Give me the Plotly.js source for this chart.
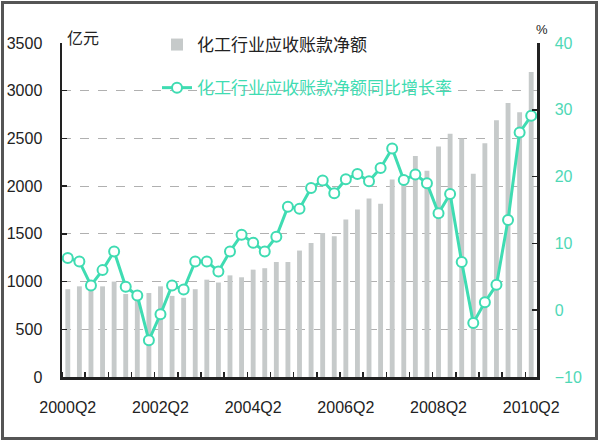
<!DOCTYPE html>
<html>
<head>
<meta charset="utf-8">
<script src="https://cdn.plot.ly/plotly-3.0.1.min.js"></script>
<style>html,body{margin:0;padding:0;background:#fff;}#chart{width:600px;height:442px;}</style>
</head>
<body>
<div id="chart"></div>
<script>
// Quarters 2000Q2 .. 2010Q2
var quarters = [];
(function(){
  var y = 2000, q = 2;
  for (var i = 0; i < 41; i++) {
    quarters.push(y + 'Q' + q);
    q++; if (q > 4) { q = 1; y++; }
  }
})();

// 化工行业应收账款净额 (亿元)
var receivables = [920, 950, 960, 950, 1000, 870, 850, 880, 950, 850,
                   830, 920, 1020, 990, 1065, 1045, 1125, 1140, 1205, 1205,
                   1325, 1405, 1510, 1475, 1650, 1755, 1870, 1815, 2070, 2020,
                   2315, 2160, 2415, 2550, 2500, 2130, 2450, 2690, 2870, 2775,
                   3195];

// 同比增长率 (%)
var growth = [7.8, 7.3, 3.7, 6.0, 8.8, 3.5, 2.2, -4.5, -0.6, 3.7,
              3.1, 7.3, 7.3, 5.8, 8.8, 11.3, 10.1, 8.8, 11.0, 15.5,
              15.2, 18.3, 19.4, 17.5, 19.6, 20.4, 19.3, 21.3, 24.2, 19.5,
              20.3, 19.0, 14.5, 17.4, 7.2, -1.9, 1.2, 3.8, 13.5, 26.6,
              29.1];

var labelIdx = [0, 8, 16, 24, 32, 40];
var labelText = labelIdx.map(function(i){ return quarters[i]; });

var idx = quarters.map(function(_, i){ return i; });

var teal = '#3fdcb2';
var latin = '"Liberation Sans", Arial, sans-serif';
var cjk = '"Noto Sans CJK SC", "Noto Sans", sans-serif';

var traces = [
  {
    type: 'bar',
    name: '化工行业应收账款净额',
    x: idx, y: receivables,
    width: 0.42,
    marker: {color: '#c6caca'},
    legend: 'legend',
    hoverinfo: 'x+y'
  },
  {
    type: 'scatter',
    mode: 'lines+markers',
    name: '化工行业应收账款净额同比增长率',
    x: idx, y: growth,
    yaxis: 'y2',
    line: {color: teal, width: 3},
    marker: {symbol: 'circle', size: 10, color: '#ffffff', line: {color: teal, width: 2}},
    legend: 'legend2'
  }
];

var px2x = function(p){ return (p - 62) / 475; };
var px2y = function(p){ return (377 - p) / 334; };

var layout = {
  width: 600, height: 442,
  margin: {l: 62, r: 63, t: 43, b: 65},
  paper_bgcolor: '#ffffff',
  plot_bgcolor: '#ffffff',
  showlegend: true,
  font: {family: latin, size: 16, color: '#222'},
  xaxis: {
    range: [-0.5, 40.5],
    tickmode: 'array', tickvals: labelIdx, ticktext: labelText,
    ticks: '', showgrid: false, zeroline: false,
    showline: true, linecolor: '#222', linewidth: 2.5,
    tickfont: {family: latin, size: 16, color: '#222'},
    ticklabelstandoff: 14,
    minor: {tick0: 1.5, dtick: 2, ticks: 'inside', ticklen: 5, tickcolor: '#222', tickwidth: 1.5, showgrid: false}
  },
  yaxis: {
    range: [0, 3500], dtick: 500, tick0: 0,
    showline: true, linecolor: '#222', linewidth: 2.5,
    ticks: 'inside', ticklen: 5, tickcolor: '#222', tickwidth: 1.5,
    showgrid: true, gridcolor: '#b0b0b0', gridwidth: 1, griddash: 'dash',
    zeroline: false,
    tickfont: {family: latin, size: 16, color: '#222'},
    ticklabelstandoff: 14
  },
  yaxis2: {
    overlaying: 'y', side: 'right',
    range: [-10, 40], dtick: 10, tick0: -10,
    showline: true, linecolor: '#222', linewidth: 2.5,
    ticks: 'inside', ticklen: 5, tickcolor: '#222', tickwidth: 1.5,
    showgrid: false, zeroline: false,
    tickfont: {family: latin, size: 16, color: '#4fd8b6'},
    ticklabelstandoff: 12
  },
  legend: {
    x: 0.2, xanchor: 'left', y: 0.994, yanchor: 'middle',
    bgcolor: 'rgba(255,255,255,0)', borderwidth: 0,
    font: {family: cjk, size: 17, color: '#222'}
  },
  legend2: {
    x: 0.2, xanchor: 'left', y: 0.865, yanchor: 'middle',
    bgcolor: 'rgba(255,255,255,0)', borderwidth: 0,
    font: {family: cjk, size: 17, color: teal}
  },
  annotations: [
    {text: '亿元', xref: 'paper', yref: 'paper', x: px2x(83), y: px2y(37),
     xanchor: 'center', yanchor: 'middle', showarrow: false,
     font: {family: cjk, size: 16, color: '#222'}},
    {text: '%', xref: 'paper', yref: 'paper', x: px2x(542), y: px2y(29),
     xanchor: 'center', yanchor: 'middle', showarrow: false,
     font: {family: latin, size: 13, color: '#222'}}
  ],
  shapes: [
    // white legend box hiding the gridlines behind the legend
    {type: 'rect', xref: 'paper', yref: 'paper',
     x0: px2x(150), x1: px2x(458), y0: px2y(104), y1: px2y(28),
     line: {width: 0}, fillcolor: '#ffffff', layer: 'between'},
    // outer frame
    {type: 'rect', xref: 'paper', yref: 'paper',
     x0: px2x(2.5), x1: px2x(596.5), y0: px2y(438.5), y1: px2y(2.5),
     line: {color: '#555', width: 3}, fillcolor: 'rgba(0,0,0,0)', layer: 'above'}
  ]
};

Plotly.newPlot('chart', traces, layout, {displayModeBar: false, staticPlot: true});
</script>
</body>
</html>
